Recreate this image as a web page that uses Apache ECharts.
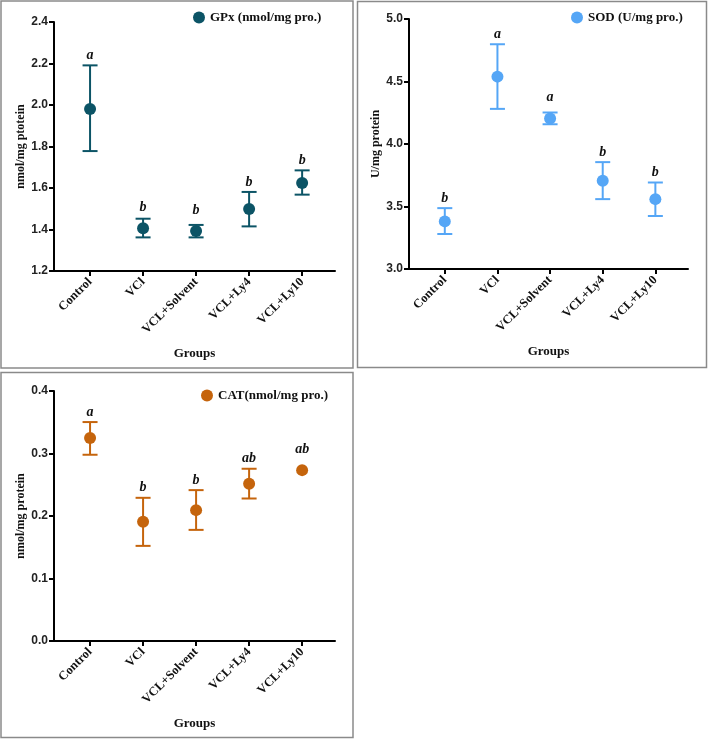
<!DOCTYPE html>
<html>
<head>
<meta charset="utf-8">
<script src="https://cdn.jsdelivr.net/npm/echarts@6/dist/echarts.min.js"></script>
<style>
html,body{margin:0;padding:0;background:#fff;}
#c{width:709px;height:740px;}
</style>
</head>
<body>
<div id="c"></div>
<script>
var categories = ['Control', 'VCl', 'VCL+Solvent', 'VCL+Ly4', 'VCL+Ly10'];

var gpxMean  = [1.981, 1.406, 1.393, 1.499, 1.624];
var gpxUpper = [2.191, 1.452, 1.422, 1.581, 1.685];
var gpxLower = [1.778, 1.362, 1.362, 1.415, 1.568];
var gpxLetters = ['a', 'b', 'b', 'b', 'b'];

var sodMean  = [3.381, 4.539, 4.204, 3.706, 3.559];
var sodUpper = [3.487, 4.798, 4.252, 3.855, 3.692];
var sodLower = [3.280, 4.281, 4.158, 3.559, 3.424];
var sodLetters = ['b', 'a', 'a', 'b', 'b'];

var catMean  = [0.3247, 0.1907, 0.2094, 0.2516, 0.2734];
var catUpper = [0.3503, 0.2291, 0.2414, 0.2756, 0.2745];
var catLower = [0.2980, 0.1522, 0.1778, 0.2280, 0.2723];
var catLetters = ['a', 'b', 'b', 'ab', 'ab'];

var gpxTicks = [1.2, 1.4, 1.6, 1.8, 2.0, 2.2, 2.4];
var sodTicks = [3.0, 3.5, 4.0, 4.5, 5.0];
var catTicks = [0.0, 0.1, 0.2, 0.3, 0.4];

var panels = [
  {name: 'GPx (nmol/mg pro.)', yName: 'nmol/mg ptotein', color: '#0c5466',
   mean: gpxMean, upper: gpxUpper, lower: gpxLower, letters: gpxLetters, ticks: gpxTicks, step: 0.2,
   grid: {left: 54, top: 22, width: 281, height: 249}, legend: {left: 188, top: 6}},
  {name: 'SOD (U/mg pro.)', yName: 'U/mg protein', color: '#55a6f6',
   mean: sodMean, upper: sodUpper, lower: sodLower, letters: sodLetters, ticks: sodTicks, step: 0.5,
   grid: {left: 409, top: 19, width: 279, height: 250}, legend: {left: 566, top: 6}},
  {name: 'CAT(nmol/mg pro.)', yName: 'nmol/mg protein', color: '#c5640c',
   mean: catMean, upper: catUpper, lower: catLower, letters: catLetters, ticks: catTicks, step: 0.1,
   grid: {left: 54, top: 391, width: 281, height: 250}, legend: {left: 196, top: 384}}
];

var serif = '"Liberation Serif", "Times New Roman", serif';
var sans = '"Liberation Sans", Arial, sans-serif';

var option = {
  animation: false,
  backgroundColor: '#ffffff',
  grid: [], xAxis: [], yAxis: [], legend: [], series: [],
  graphic: [
    {type: 'rect', shape: {x: 1, y: 1, width: 352, height: 367}, style: {fill: 'none', stroke: '#8a8a8a', lineWidth: 1.5}},
    {type: 'rect', shape: {x: 357.5, y: 1.5, width: 349, height: 366}, style: {fill: 'none', stroke: '#8a8a8a', lineWidth: 1.5}},
    {type: 'rect', shape: {x: 1, y: 372.5, width: 352, height: 365}, style: {fill: 'none', stroke: '#8a8a8a', lineWidth: 1.5}}
  ]
};

panels.forEach(function (p, k) {
  option.grid.push(p.grid);
  option.xAxis.push({
    gridIndex: k, type: 'value', min: -0.68, max: 4.62,
    name: 'Groups', nameLocation: 'middle', nameGap: 76,
    nameTextStyle: {fontFamily: serif, fontWeight: 'bold', fontSize: 13, color: '#111'},
    axisLine: {onZero: false, lineStyle: {color: '#000', width: 2}},
    axisTick: {customValues: [0, 1, 2, 3, 4], length: 5, lineStyle: {color: '#000', width: 2}},
    axisLabel: {customValues: [0, 1, 2, 3, 4], rotate: 45, margin: 9,
      fontFamily: serif, fontWeight: 'bold', fontSize: 12.5, color: '#111',
      formatter: function (v) { return categories[Math.round(v)]; }},
    splitLine: {show: false}
  });
  option.yAxis.push({
    gridIndex: k, type: 'value', min: p.ticks[0], max: p.ticks[p.ticks.length - 1], interval: p.step,
    name: p.yName, nameLocation: 'middle', nameGap: 27,
    nameTextStyle: {fontFamily: serif, fontWeight: 'bold', fontSize: 12, color: '#111'},
    axisLine: {show: true, onZero: false, lineStyle: {color: '#000', width: 2}},
    axisTick: {show: true, length: 5, lineStyle: {color: '#000', width: 2}},
    axisLabel: {fontFamily: sans, fontWeight: 'bold', fontSize: 12, color: '#222', margin: 6,
      formatter: function (v) { return v.toFixed(1); }},
    splitLine: {show: false}
  });
  option.legend.push({
    data: [{name: p.name, icon: 'circle'}], left: p.legend.left, top: p.legend.top,
    itemWidth: 12, itemHeight: 12, itemGap: 6, selectedMode: false,
    textStyle: {fontFamily: serif, fontWeight: 'bold', fontSize: 13, color: '#111'}
  });
  var errData = categories.map(function (c, i) { return [i, p.lower[i], p.upper[i], p.mean[i]]; });
  option.series.push({
    type: 'custom', name: 'err' + k, xAxisIndex: k, yAxisIndex: k, z: 2,
    data: errData,
    renderItem: function (params, api) {
      var i = api.value(0);
      var lo = api.coord([i, api.value(1)]);
      var hi = api.coord([i, api.value(2)]);
      var mid = api.coord([i, api.value(3)]);
      var x = lo[0];
      var cw = 7.5;
      var st = {stroke: p.color, lineWidth: 2, fill: 'none'};
      var letterY = Math.min(hi[1], mid[1] - 11) - 3;
      var children = [];
      if (Math.abs(lo[1] - hi[1]) > 4) {
        children.push(
          {type: 'line', shape: {x1: x, y1: lo[1], x2: x, y2: hi[1]}, style: st},
          {type: 'line', shape: {x1: x - cw, y1: hi[1], x2: x + cw, y2: hi[1]}, style: st},
          {type: 'line', shape: {x1: x - cw, y1: lo[1], x2: x + cw, y2: lo[1]}, style: st});
      }
      children.push({type: 'text', style: {text: p.letters[params.dataIndex], x: x, y: letterY,
          align: 'center', verticalAlign: 'bottom', fill: '#111',
          font: 'italic bold 14px ' + serif}});
      return {type: 'group', children: children};
    }
  });
  option.series.push({
    type: 'scatter', name: p.name, xAxisIndex: k, yAxisIndex: k, z: 3,
    symbol: 'circle', symbolSize: 12,
    itemStyle: {color: p.color, opacity: 1},
    data: categories.map(function (c, i) { return [i, p.mean[i]]; })
  });
});

var chart = echarts.init(document.getElementById('c'), null, {renderer: 'canvas'});
chart.setOption(option);
</script>
</body>
</html>
